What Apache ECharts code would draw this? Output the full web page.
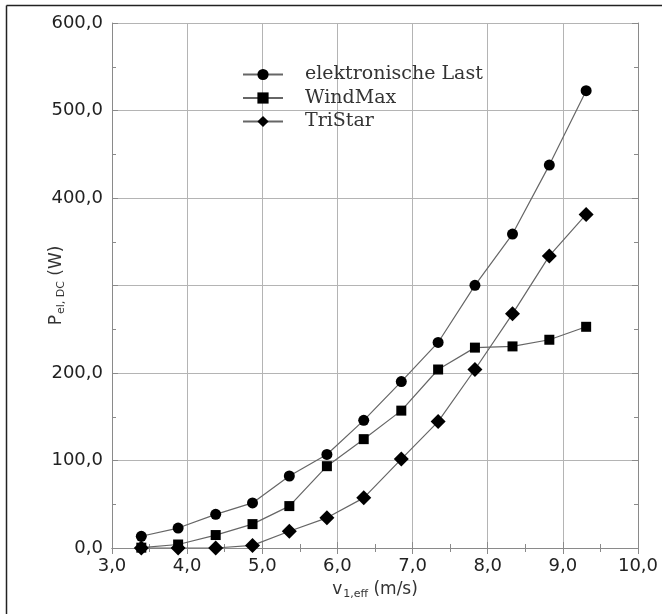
<!DOCTYPE html>
<html>
<head>
<meta charset="utf-8">
<script src="https://cdn.jsdelivr.net/npm/echarts@6/dist/echarts.min.js"></script>
<style>
html,body{margin:0;padding:0;background:#fff;}
#c{width:662px;height:614px;}
</style>
</head>
<body>
<div id="c"></div>
<script>
// Wind speed (m/s)
const speeds = [3.39, 3.88, 4.38, 4.87, 5.36, 5.86, 6.35, 6.85, 7.34, 7.83, 8.33, 8.82, 9.31];
// Power P_el,DC (W)
const elektronischeLast = [13.4, 22.8, 38.5, 51.5, 82.3, 106.9, 145.9, 190.2, 234.9, 300.2, 358.8, 437.6, 522.6];
const windMax = [0.4, 4.0, 14.8, 27.3, 47.9, 93.5, 124.4, 157.0, 204.0, 229.0, 230.4, 238.0, 252.8];
const triStar = [0, 0, 0, 3.0, 19.2, 34.5, 57.3, 101.6, 144.5, 204.0, 267.6, 333.8, 381.2];
const seriesNames = ['elektronische Last', 'WindMax', 'TriStar'];
const yTickHidden = [300];

const pair = arr => speeds.map((x, i) => [x, arr[i]]);
const fmt = v => v.toFixed(1).replace('.', ',');

const chart = echarts.init(document.getElementById('c'), null, {renderer: 'canvas'});
const lineCol = '#666666';
const gridCol = '#b4b4b4';
const axisCol = '#8a8a8a';
const font = 'DejaVu Sans';

function mkSeries(name, data, symbol, size) {
  return {
    name: name, type: 'line', data: pair(data),
    symbol: symbol, symbolSize: size,
    itemStyle: {color: '#000'},
    lineStyle: {color: lineCol, width: 1.2},
    emphasis: {disabled: true},
    clip: true,
    animation: false
  };
}

const tickCommon = {show: true, inside: true, length: 6, lineStyle: {color: axisCol}};
const minorCommon = {show: true, splitNumber: 2, length: 4, lineStyle: {color: axisCol}};

chart.setOption({
  animation: false,
  graphic: [
    {type: 'line', shape: {x1: 6.5, y1: 5.5, x2: 662, y2: 5.5}, style: {stroke: '#222', lineWidth: 1.5}},
    {type: 'line', shape: {x1: 6.5, y1: 5.5, x2: 6.5, y2: 614}, style: {stroke: '#222', lineWidth: 1.5}}
  ],
  grid: {left: 112, right: 24, top: 23, bottom: 66, show: false},
  legend: {
    orient: 'vertical', left: 242, top: 65, padding: 0, itemWidth: 40, itemHeight: 14, itemGap: 4.5,
    data: seriesNames,
    textStyle: {fontFamily: 'DejaVu Serif', fontSize: 19, color: '#333', padding: [0, 0, 0, 17]},
    selectedMode: false
  },
  xAxis: [{
    type: 'value', min: 3, max: 10, interval: 1, position: 'bottom',
    name: '{a|v}{s|1,eff}{a| (m/s)}', nameLocation: 'middle', nameGap: 32, nameMoveOverlap: false,
    nameTextStyle: {rich: {
      a: {fontFamily: font, fontSize: 17, color: '#333'},
      s: {fontFamily: font, fontSize: 11, color: '#333', padding: [9, 0, 0, 1]}
    }},
    axisLine: {show: true, lineStyle: {color: axisCol}},
    axisTick: tickCommon, minorTick: minorCommon,
    splitLine: {show: true, lineStyle: {color: gridCol}},
    axisLabel: {formatter: fmt, fontFamily: font, fontSize: 18, color: '#222', margin: 9}
  }, {
    type: 'value', min: 3, max: 10, interval: 1, position: 'top',
    axisLine: {show: true, lineStyle: {color: axisCol}},
    axisTick: tickCommon, minorTick: minorCommon,
    splitLine: {show: false}, axisLabel: {show: false}
  }],
  yAxis: [{
    type: 'value', min: 0, max: 600, interval: 100, position: 'left',
    name: '{a|P}{s|el, DC}{a| (W)}', nameLocation: 'middle', nameGap: 45, nameRotate: 90, nameMoveOverlap: false,
    nameTextStyle: {rich: {
      a: {fontFamily: font, fontSize: 17, color: '#333'},
      s: {fontFamily: font, fontSize: 11, color: '#333', padding: [9, 0, 0, 1]}
    }},
    axisLine: {show: true, lineStyle: {color: axisCol}},
    axisTick: tickCommon, minorTick: minorCommon,
    splitLine: {show: true, lineStyle: {color: gridCol}},
    axisLabel: {formatter: v => yTickHidden.includes(v) ? '' : fmt(v), fontFamily: font, fontSize: 18, color: '#222', margin: 9}
  }, {
    type: 'value', min: 0, max: 600, interval: 100, position: 'right',
    axisLine: {show: true, lineStyle: {color: axisCol}},
    axisTick: tickCommon, minorTick: minorCommon,
    splitLine: {show: false}, axisLabel: {show: false}
  }],
  series: [
    mkSeries(seriesNames[0], elektronischeLast, 'circle', 11),
    mkSeries(seriesNames[1], windMax, 'rect', 10),
    mkSeries(seriesNames[2], triStar, 'diamond', 15)
  ]
});
</script>
</body>
</html>
